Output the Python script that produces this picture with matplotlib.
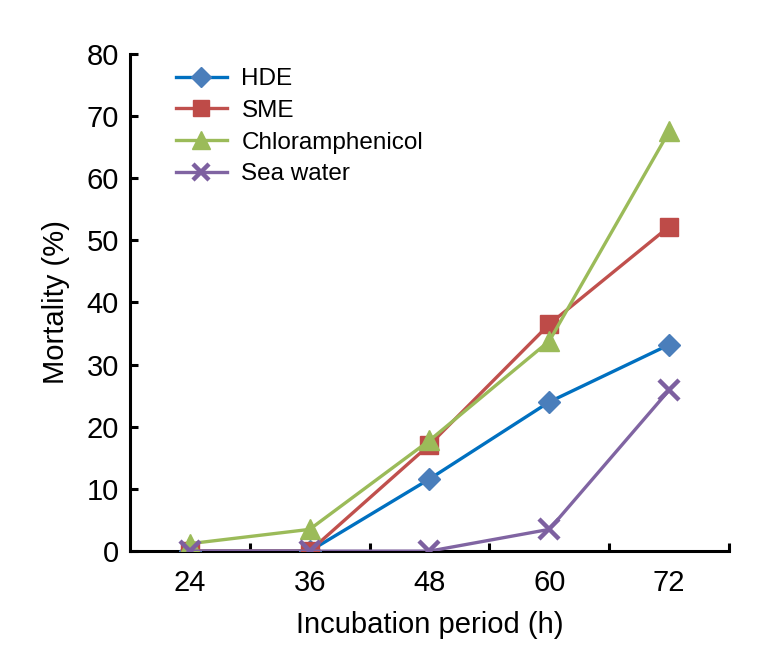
import matplotlib
matplotlib.use("Agg")
import matplotlib.pyplot as plt

plt.rcParams['font.family'] = ['Liberation Sans', 'DejaVu Sans']

categories = ["24", "36", "48", "60", "72"]
hde = [0, 0, 11.6, 24.0, 33.2]
sme = [0, 0, 17.1, 36.5, 52.2]
chloramphenicol = [1.2, 3.5, 17.8, 33.8, 67.5]
sea_water = [0, 0, 0, 3.5, 25.9]
y_ticks = [0, 10, 20, 30, 40, 50, 60, 70, 80]

fig = plt.figure(figsize=(7.69, 6.64), dpi=100)
ax = fig.add_axes([0.169, 0.170, 0.779, 0.749])

x = list(range(len(categories)))
ax.plot(x, hde, color='#0070C0', lw=2.4, marker='D', ms=11.5, mfc='#4A7EBB', mec='#4A7EBB', label='HDE', zorder=3)
ax.plot(x, sme, color='#C0504D', lw=2.4, marker='s', ms=13.5, mfc='#BE4B48', mec='#BE4B48', label='SME', zorder=3)
ax.plot(x, chloramphenicol, color='#9BBB59', lw=2.4, marker='^', ms=15, mfc='#9BBB59', mec='#9BBB59', label='Chloramphenicol', zorder=3)
ax.plot(x, sea_water, color='#8064A2', lw=2.4, marker='x', ms=14, mew=3.2, mec='#7D60A0', label='Sea water', zorder=3)

ax.set_xlim(-0.5, len(categories) - 0.5)
ax.set_ylim(0, 80)
ax.set_yticks(y_ticks)
ax.set_xticks(x)
ax.set_xticklabels(categories)
ax.set_xticks([i + 0.5 for i in x], minor=True)

for s in ['top', 'right']:
    ax.spines[s].set_visible(False)
for s in ['left', 'bottom']:
    ax.spines[s].set_linewidth(2.2)
ax.spines['left'].set_zorder(1)
ax.spines['bottom'].set_zorder(1)

ax.tick_params(axis='y', direction='in', length=6, width=2.2, labelsize=21, pad=8)
ax.tick_params(axis='x', which='major', length=0, labelsize=21, pad=13)
ax.tick_params(axis='x', which='minor', direction='in', length=6, width=2.2)

ax.set_ylabel('Mortality (%)', fontsize=21, labelpad=12)
ax.set_xlabel('Incubation period (h)', fontsize=21, labelpad=10)

leg = ax.legend(loc='upper left', bbox_to_anchor=(0.04, 1.015), frameon=False, fontsize=17.5,
                handlelength=2.1, labelspacing=0.4, handletextpad=0.6, markerscale=0.85)

fig.savefig('out.png', dpi=100)
